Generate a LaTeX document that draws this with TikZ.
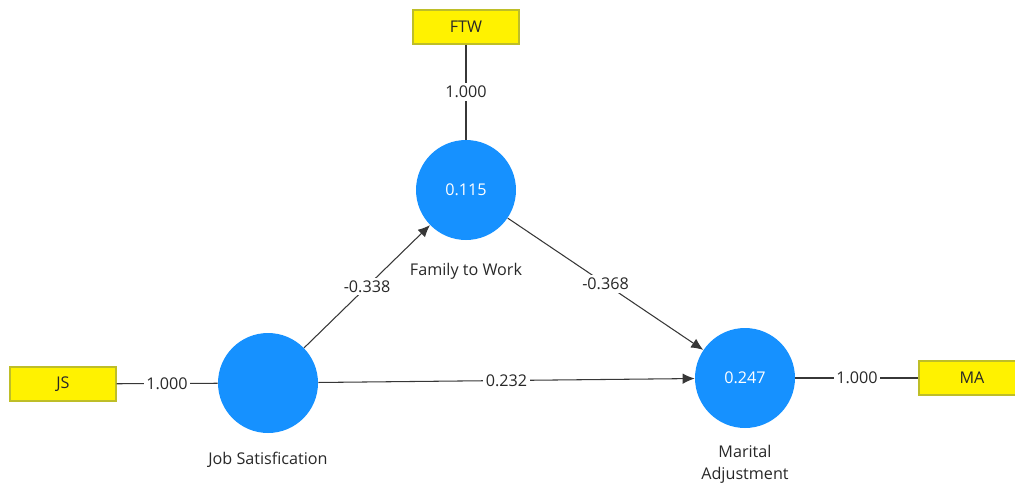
\documentclass[tikz,border=0pt]{standalone}
\usepackage{fontspec}
\setmainfont{Open Sans}
\usetikzlibrary{arrows.meta}

\definecolor{lvblue}{RGB}{22,145,255}
\definecolor{boxedge}{RGB}{190,190,40}
\definecolor{edgegray}{RGB}{55,55,55}
\definecolor{txtgray}{RGB}{40,40,40}

\tikzset{
    latent/.style={circle, fill=lvblue, minimum size=2cm, inner sep=0pt,
        text=white, font=\fontsize{9.2}{11}\selectfont},
    indicator/.style={rectangle, draw=boxedge, fill=yellow, line width=0.6pt,
        minimum width=2.12cm, minimum height=0.68cm, inner sep=0pt,
        text=txtgray, font=\fontsize{9.2}{11}\selectfont},
    lvname/.style={text=txtgray, align=center, font=\fontsize{9.2}{12.5}\selectfont},
    loading/.style={draw=edgegray, line width=0.6pt},
    coefarrow/.style={draw=edgegray, line width=0.6pt, -{Latex[length=2.4mm,width=2.1mm]}},
    weight/.style={fill=white, inner sep=1.5pt, text=txtgray, font=\fontsize{9.2}{11}\selectfont}
}

\begin{document}
\begin{tikzpicture}[x=0.02cm, y=-0.02cm]
    \useasboundingbox (0,0) rectangle (1015,485);
    % latent variables
    \node[latent] (ftw) at (466,190) {0.115};
    \node[latent] (js) at (268,383) {};
    \node[latent] (ma) at (745,378) {0.247};
    \node[lvname] (ftwname) at (466,271) {Family to Work};
    \node[lvname] (jsname) at (268,460) {Job Satisfication};
    \node[lvname] (maname) at (745,464) {Marital\\Adjustment};
    % indicators
    \node[indicator] (ftwbox) at (466,27) {FTW};
    \node[indicator] (jsbox) at (63,384) {JS};
    \node[indicator] (mabox) at (972,378) {MA};
    % outer loadings
    \draw[loading] (ftwbox) -- node[weight] {1.000} (ftw);
    \draw[loading] (jsbox) -- node[weight] {1.000} (js);
    \draw[loading] (ma) -- node[weight] {1.000} (mabox);
    % path coefficients
    \draw[coefarrow] (js) -- node[weight] {-0.338} (ftw);
    \draw[coefarrow] (ftw) -- node[weight] {-0.368} (ma);
    \draw[coefarrow] (js) -- node[weight] {0.232} (ma);
\end{tikzpicture}
\end{document}
